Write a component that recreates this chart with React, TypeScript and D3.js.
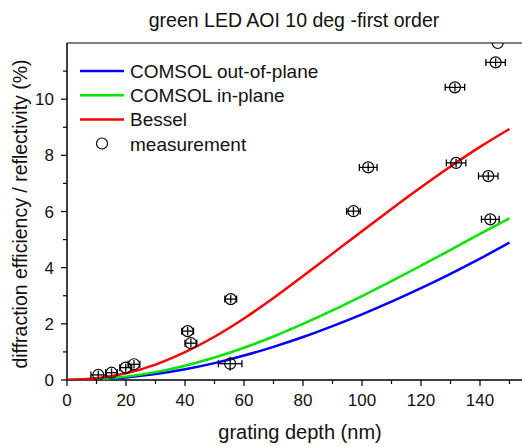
import React from "react";
import * as d3 from "d3";

// Simulated curves, sampled every 10 nm of grating depth
const depthGrid = [0, 10, 20, 30, 40, 50, 60, 70, 80, 90, 100, 110, 120, 130, 140, 150];
const outOfPlane = [0, 0.02, 0.09, 0.21, 0.38, 0.6, 0.87, 1.18, 1.53, 1.92, 2.34, 2.79, 3.27, 3.78, 4.32, 4.89];
const inPlane = [0, 0.03, 0.12, 0.28, 0.51, 0.8, 1.15, 1.55, 2.0, 2.48, 2.99, 3.52, 4.07, 4.63, 5.2, 5.76];
const bessel = [0, 0.06, 0.24, 0.55, 0.99, 1.54, 2.19, 2.92, 3.7, 4.5, 5.3, 6.09, 6.86, 7.6, 8.3, 8.94];

// Measured first-order efficiency with depth / efficiency uncertainties
const measDepth = [10.6, 15.1, 19.9, 22.7, 40.9, 42.0, 55.5, 55.3, 97.1, 102.1, 131.9, 131.5, 142.8, 143.5, 145.3, 146.0];
const measValue = [0.18, 0.26, 0.44, 0.56, 1.74, 1.31, 2.88, 0.58, 6.01, 7.57, 7.73, 10.42, 7.26, 5.72, 11.31, 12.0];
const measDepthErr = [2.5, 2, 2, 2, 2, 2, 2, 4, 2.3, 3, 3.3, 3.3, 3.3, 3, 3.3, 0];
const measValueErr = [0.15, 0.15, 0.15, 0.15, 0.15, 0.15, 0.15, 0.25, 0.15, 0.15, 0.15, 0.15, 0.15, 0.15, 0.15, 0];

const xTicks = [0, 20, 40, 60, 80, 100, 120, 140];
const yTicks = [0, 2, 4, 6, 8, 10];

const series = [
  { name: "COMSOL out-of-plane", color: "#0000ff", values: outOfPlane },
  { name: "COMSOL in-plane", color: "#00e600", values: inPlane },
  { name: "Bessel", color: "#ff0000", values: bessel },
];

const FONT = "'Liberation Sans', Arial, sans-serif";

export default function App() {
  const W = 522;
  const H = 447;
  const left = 67;
  const top = 43;
  const bottom = 380;
  const x = d3.scaleLinear().domain([0, 155]).range([left, left + 155 * 2.95]);
  const y = d3.scaleLinear().domain([0, 12]).range([bottom, top]);
  const right = x(155);

  const line = (vals: number[]) =>
    d3
      .line<number>()
      .x((_, i) => x(depthGrid[i]))
      .y((v) => y(v))
      .curve(d3.curveMonotoneX)(vals) as string;

  const xMinor = d3.range(10, 155, 20);
  const yMinor = d3.range(1, 12, 2);

  return (
    <svg
      width={W}
      height={H}
      style={{ position: "absolute", left: 0, top: 0, background: "#fff" }}
      fontFamily={FONT}
    >
      <defs>
        <clipPath id="plotClip">
          <rect x={left} y={top} width={right - left} height={bottom - top} />
        </clipPath>
      </defs>

      <text x={294} y={27} textAnchor="middle" fontSize={19.5} fill="#111">
        green LED AOI 10 deg -first order
      </text>

      {/* frame */}
      <line x1={left} x2={right} y1={top} y2={top} stroke="#000" strokeWidth={1.2} />
      <line x1={left} x2={left} y1={top} y2={bottom} stroke="#000" strokeWidth={1.5} />
      <line x1={left} x2={right} y1={bottom} y2={bottom} stroke="#000" strokeWidth={1.5} />

      {/* x ticks */}
      {xTicks.map((t) => (
        <g key={"xt" + t}>
          <line x1={x(t)} x2={x(t)} y1={bottom} y2={bottom + 6} stroke="#000" strokeWidth={1.2} />
          <text x={x(t)} y={406} textAnchor="middle" fontSize={17} fill="#111">
            {t}
          </text>
        </g>
      ))}
      {xMinor.map((t) => (
        <line key={"xm" + t} x1={x(t)} x2={x(t)} y1={bottom} y2={bottom + 4} stroke="#000" strokeWidth={1.2} />
      ))}

      {/* y ticks */}
      {yTicks.map((t) => (
        <g key={"yt" + t}>
          <line x1={left - 6} x2={left} y1={y(t)} y2={y(t)} stroke="#000" strokeWidth={1.2} />
          <text x={54} y={y(t) + 6} textAnchor="end" fontSize={17} fill="#111">
            {t}
          </text>
        </g>
      ))}
      {yMinor.map((t) => (
        <line key={"ym" + t} x1={left - 4} x2={left} y1={y(t)} y2={y(t)} stroke="#000" strokeWidth={1.2} />
      ))}

      <text x={300} y={439} textAnchor="middle" fontSize={20} fill="#111">
        grating depth (nm)
      </text>
      <text
        transform={`translate(27, 214) rotate(-90)`}
        textAnchor="middle"
        fontSize={19.5}
        fill="#111"
      >
        diffraction efficiency / reflectivity (%)
      </text>

      <g clipPath="url(#plotClip)">
        {series.map((s) => (
          <path key={s.name} d={line(s.values)} fill="none" stroke={s.color} strokeWidth={2.5} />
        ))}
        {measDepth.map((d, i) => {
          const cx = x(d);
          const cy = y(measValue[i]);
          const hasX = measDepthErr[i] > 0;
          const hasY = measValueErr[i] > 0;
          const x0 = x(d - measDepthErr[i]);
          const x1 = x(d + measDepthErr[i]);
          const y0 = y(measValue[i] - measValueErr[i]);
          const y1 = y(measValue[i] + measValueErr[i]);
          return (
            <g key={"m" + i} stroke="#000" strokeWidth={1.3} fill="none">
              {hasX && (
                <>
                  <line x1={x0} x2={x1} y1={cy} y2={cy} />
                  <line x1={x0} x2={x0} y1={cy - 3.5} y2={cy + 3.5} />
                  <line x1={x1} x2={x1} y1={cy - 3.5} y2={cy + 3.5} />
                </>
              )}
              {hasY && <line x1={cx} x2={cx} y1={y0} y2={y1} />}
              <circle cx={cx} cy={cy} r={5.5} strokeWidth={1.2} />
            </g>
          );
        })}
      </g>

      {/* legend */}
      {series.map((s, i) => (
        <g key={"lg" + i}>
          <line x1={80} x2={124} y1={71 + i * 24.2} y2={71 + i * 24.2} stroke={s.color} strokeWidth={2.5} />
          <text x={130} y={78 + i * 24.2} fontSize={19} fill="#111">
            {s.name}
          </text>
        </g>
      ))}
      <circle cx={102} cy={143.5} r={5.5} fill="none" stroke="#000" strokeWidth={1.2} />
      <text x={130} y={150.5} fontSize={19} fill="#111">
        measurement
      </text>
    </svg>
  );
}
